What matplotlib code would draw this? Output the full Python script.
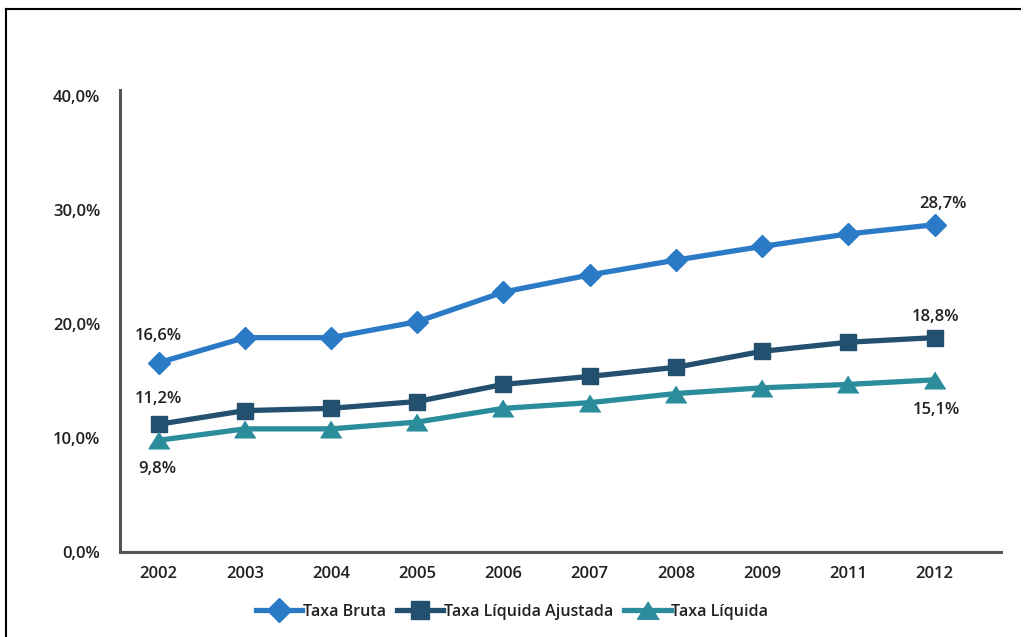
import matplotlib
matplotlib.use("Agg")
import matplotlib.pyplot as plt
from matplotlib.lines import Line2D

# data
anos = ["2002", "2003", "2004", "2005", "2006", "2007", "2008", "2009", "2011", "2012"]
taxa_bruta = [16.6, 18.8, 18.8, 20.2, 22.8, 24.3, 25.6, 26.8, 27.9, 28.7]
taxa_liq_ajustada = [11.2, 12.4, 12.6, 13.2, 14.7, 15.4, 16.2, 17.6, 18.4, 18.8]
taxa_liquida = [9.8, 10.8, 10.8, 11.4, 12.6, 13.1, 13.9, 14.4, 14.7, 15.1]
y_ticks = [0, 10, 20, 30, 40]

plt.rcParams['font.family'] = ['Open Sans', 'DejaVu Sans']
plt.rcParams['font.weight'] = 'semibold'
txt_color = '#231f20'

c_bruta = '#2a7ac6'
c_ajust = '#23506e'
c_liq = '#2b8c9c'
tri = [(0, 0.8), (-1, -0.8), (1, -0.8)]

fig = plt.figure(figsize=(10.24, 6.37), dpi=100)
ax = fig.add_axes([0.117, 0.1334, 0.8605, 0.725])

x = list(range(len(anos)))
ax.plot(x, taxa_bruta, color=c_bruta, lw=3.8, marker='D', ms=11.5, label='Taxa Bruta')
ax.plot(x, taxa_liq_ajustada, color=c_ajust, lw=3.8, marker='s', ms=12, label='Taxa Líquida Ajustada')
ax.plot(x, taxa_liquida, color=c_liq, lw=3.8, marker=tri, ms=15, label='Taxa Líquida')

ax.set_xlim(-0.45, 9.77)
ax.set_ylim(0, 40.5)
ax.set_xticks(x)
ax.set_xticklabels(anos)
ax.set_yticks(y_ticks)
ax.set_yticklabels([f"{v:.1f}".replace('.', ',') + '%' for v in y_ticks])
ax.tick_params(length=0, labelsize=12, colors=txt_color)
ax.tick_params(axis='x', pad=10)
ax.tick_params(axis='y', pad=14)

for s in ['top', 'right']:
    ax.spines[s].set_visible(False)
for s in ['left', 'bottom']:
    ax.spines[s].set_color('#555555')
    ax.spines[s].set_linewidth(2.2)

def fmt(v):
    return f"{v:.1f}".replace('.', ',') + '%'

lab = dict(fontsize=12, color=txt_color, ha='center', va='center')
ax.annotate(fmt(taxa_bruta[0]), (0, taxa_bruta[0]), xytext=(0, 19), textcoords='offset points', **lab)
ax.annotate(fmt(taxa_liq_ajustada[0]), (0, taxa_liq_ajustada[0]), xytext=(0, 18), textcoords='offset points', **lab)
ax.annotate(fmt(taxa_liquida[0]), (0, taxa_liquida[0]), xytext=(-1, -21), textcoords='offset points', **lab)
ax.annotate(fmt(taxa_bruta[-1]), (9, taxa_bruta[-1]), xytext=(6, 15), textcoords='offset points', **lab)
ax.annotate(fmt(taxa_liq_ajustada[-1]), (9, taxa_liq_ajustada[-1]), xytext=(1, 15), textcoords='offset points', **lab)
ax.annotate(fmt(taxa_liquida[-1]), (9, taxa_liquida[-1]), xytext=(1, -22), textcoords='offset points', **lab)

leg = fig.legend(loc='center', bbox_to_anchor=(0.5, 0.04), ncol=3, frameon=False,
                 fontsize=11.5, handlelength=2.9, handletextpad=0.05, columnspacing=0.7,
                 markerscale=1.05)
for t in leg.get_texts():
    t.set_color(txt_color)

# outer frame (top and left edges visible)
fig.add_artist(Line2D([0.006, 0.996], [0.986, 0.986], transform=fig.transFigure, color='black', lw=1.5))
fig.add_artist(Line2D([0.006, 0.006], [0.0, 0.986], transform=fig.transFigure, color='black', lw=1.5))

fig.savefig("out.png", dpi=100)
